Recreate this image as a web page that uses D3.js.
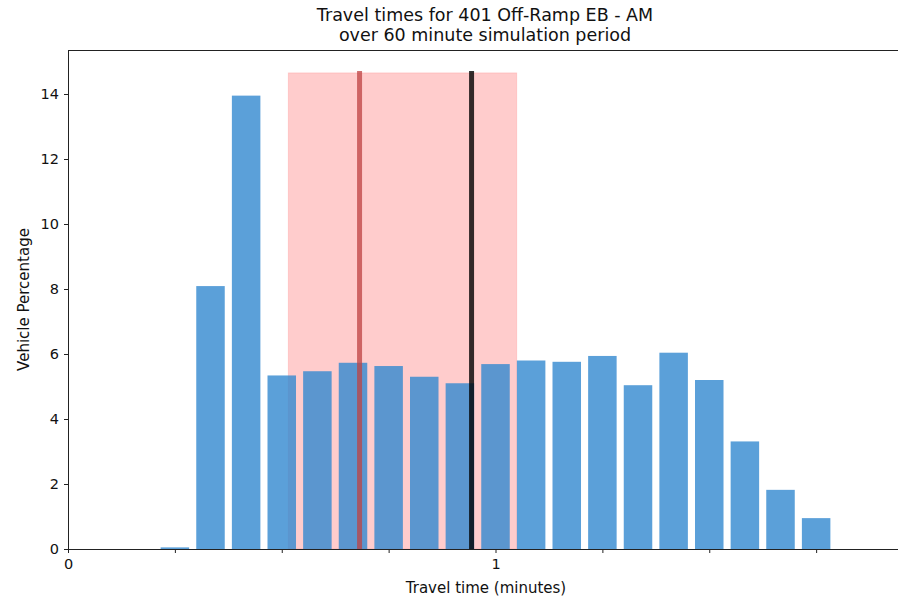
<!DOCTYPE html>
<html>
<head>
<meta charset="utf-8">
<script src="https://cdn.jsdelivr.net/npm/d3@7"></script>
<style>
  html, body { margin: 0; padding: 0; background: #fff; }
  svg { display: block; font-family: "DejaVu Sans", sans-serif; }
</style>
</head>
<body>
<svg id="chart" width="898" height="601"></svg>
<script>
// Histogram bins: travel time in seconds (bin centres) and share of vehicles (%)
const binSeconds = [15, 20, 25, 30, 35, 40, 45, 50, 55, 60, 65, 70, 75, 80, 85, 90, 95, 100, 105];
const vehiclePct = [0.05, 8.09, 13.95, 5.34, 5.47, 5.73, 5.63, 5.30, 5.10, 5.69, 5.80, 5.76, 5.94, 5.04, 6.04, 5.20, 3.31, 1.82, 0.95];
const binWidthSeconds = 4;

// Summary markers (minutes)
const spreadBand = [0.5154, 1.0496];
const bandTop = 14.65;
const markerLines = [
  { name: "lower", minutes: 0.682, color: "rgb(189,66,66)", opacity: 0.75 },
  { name: "upper", minutes: 0.944, color: "#000", opacity: 0.8 }
];

const yTicks = [0, 2, 4, 6, 8, 10, 12, 14];
const xMinorTicks = [0.25, 0.5, 0.75, 1.25, 1.5, 1.75];
const xMajorTicks = [0, 1];

const titleLines = ["Travel times for 401 Off-Ramp EB - AM", "over 60 minute simulation period"];

const margin = { left: 68, top: 50, right: 0, bottom: 52 };
const W = 898, H = 601;
const plotW = W - margin.left - margin.right;
const plotH = H - margin.top - margin.bottom;

const x = d3.scaleLinear().domain([0, 1.9415]).range([0, plotW]);
const y = d3.scaleLinear().domain([0, 15.354]).range([plotH, 0]);

const svg = d3.select("#chart");
const g = svg.append("g").attr("transform", `translate(${margin.left},${margin.top})`);

// Shaded spread band (drawn beneath the bars)
g.append("rect")
  .attr("x", x(spreadBand[0]))
  .attr("y", y(bandTop))
  .attr("width", x(spreadBand[1]) - x(spreadBand[0]))
  .attr("height", y(0) - y(bandTop))
  .attr("fill", "rgb(255,0,0)")
  .attr("fill-opacity", 0.2)
  .attr("stroke", "rgb(255,0,0)")
  .attr("stroke-opacity", 0.12)
  .attr("stroke-width", 1);

// Histogram bars
const bins = binSeconds.map((s, i) => ({ s, v: vehiclePct[i] }));
g.selectAll("rect.bar")
  .data(bins)
  .join("rect")
  .attr("class", "bar")
  .attr("x", d => x((d.s - binWidthSeconds / 2) / 60))
  .attr("width", x(binWidthSeconds / 60) - x(0))
  .attr("y", d => y(d.v))
  .attr("height", d => y(0) - y(d.v))
  .attr("fill", "rgb(50,136,207)")
  .attr("fill-opacity", 0.8);

// Vertical marker lines
g.selectAll("line.marker")
  .data(markerLines)
  .join("line")
  .attr("class", "marker")
  .attr("x1", d => x(d.minutes))
  .attr("x2", d => x(d.minutes))
  .attr("y1", y(0))
  .attr("y2", y(bandTop) - 2)
  .attr("stroke", d => d.color)
  .attr("stroke-opacity", d => d.opacity)
  .attr("stroke-width", 5);

// Axes
const axisColor = "#222";
const yAxis = g.append("g")
  .call(d3.axisLeft(y).tickValues(yTicks).tickSize(4).tickPadding(5).tickFormat(d3.format("d")));
const xMajor = g.append("g").attr("transform", `translate(0,${plotH})`)
  .call(d3.axisBottom(x).tickValues(xMajorTicks).tickSize(4).tickPadding(6).tickFormat(d3.format("d")));
const xMinor = g.append("g").attr("transform", `translate(0,${plotH})`)
  .call(d3.axisBottom(x).tickValues(xMinorTicks).tickSize(4).tickFormat(""));

[yAxis, xMajor, xMinor].forEach(a => {
  a.select(".domain").remove();
  a.selectAll(".tick line").attr("stroke", axisColor).attr("stroke-width", 1);
  a.selectAll(".tick text").attr("fill", "#111").style("font-size", "14.5px")
    .style("font-family", "'DejaVu Sans', sans-serif");
});

// Spines
const spine = (x1, y1, x2, y2) => g.append("line")
  .attr("x1", x1).attr("y1", y1).attr("x2", x2).attr("y2", y2)
  .attr("stroke", axisColor).attr("stroke-width", 1).attr("shape-rendering", "crispEdges");
spine(0, 0, 0, plotH);
spine(0, plotH, plotW, plotH);
spine(0, 0, plotW, 0);
spine(plotW, 0, plotW, plotH);

// Axis labels
svg.append("text")
  .attr("x", 486).attr("y", 593)
  .attr("text-anchor", "middle")
  .style("font-size", "15px").attr("fill", "#111")
  .text("Travel time (minutes)");

svg.append("text")
  .attr("transform", `translate(29,${margin.top + plotH / 2}) rotate(-90)`)
  .attr("text-anchor", "middle")
  .style("font-size", "15px").attr("fill", "#111")
  .text("Vehicle Percentage");

// Title
svg.append("g").selectAll("text")
  .data(titleLines)
  .join("text")
  .attr("x", 485)
  .attr("y", (d, i) => 21 + i * 20)
  .attr("text-anchor", "middle")
  .style("font-size", "17.5px").attr("fill", "#111")
  .text(d => d);
</script>
</body>
</html>
